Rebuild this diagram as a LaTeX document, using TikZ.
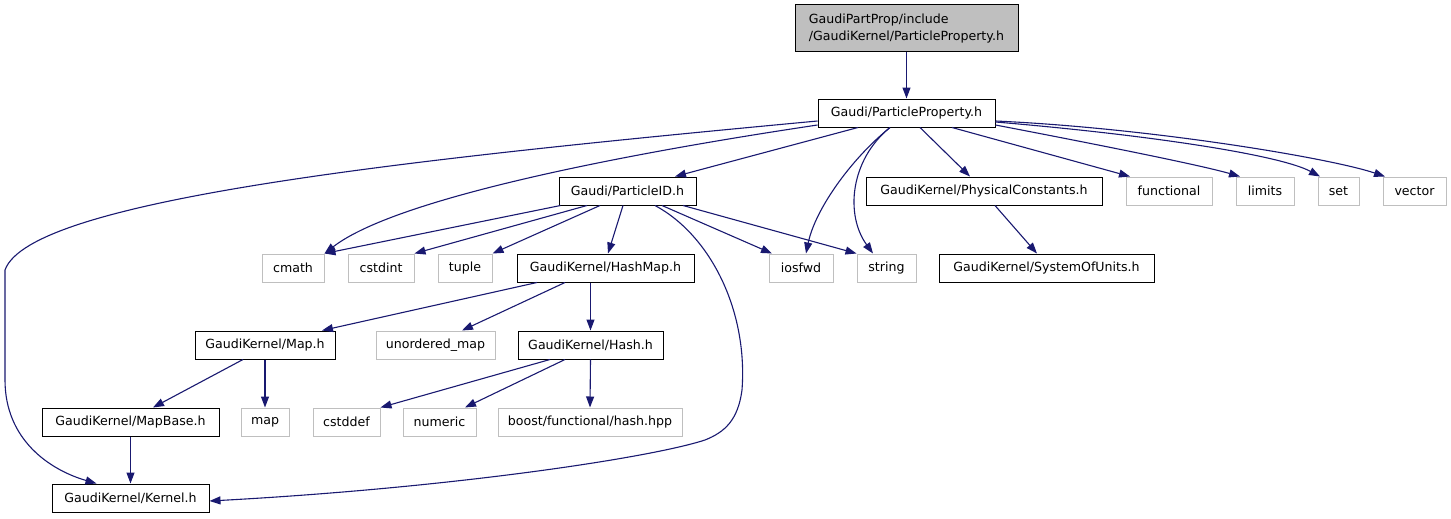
\documentclass[tikz,border=0pt]{standalone}
\usepackage{fontspec}
\setmainfont{DejaVu Sans}
\usetikzlibrary{arrows.meta}
\definecolor{edgecol}{HTML}{191970}
\definecolor{greyline}{HTML}{BFBFBF}
\tikzset{
  box/.style={draw=black, line width=1pt, fill=white, inner sep=0pt, minimum height=28pt,
    font=\fontsize{12.6}{17}\selectfont},
  ext/.style={draw=greyline, line width=1pt, fill=white, inner sep=0pt, minimum height=28pt,
    font=\fontsize{12.6}{17}\selectfont},
  rootbox/.style={draw=black, line width=1pt, fill=greyline, inner sep=0pt, align=left,
    font=\fontsize{12.6}{17}\selectfont},
  dep/.style={draw=edgecol, line width=1.1pt, -{Triangle[length=11pt,width=8pt]}, fill=none},
}
\begin{document}
\begin{tikzpicture}[x=1pt,y=-1pt]
\useasboundingbox (0,0) rectangle (1451,519);
% row 0
\node[rootbox, minimum width=223pt, minimum height=47pt] (top) at (906.5,28.5) {GaudiPartProp/include\\/GaudiKernel/ParticleProperty.h};
% row 1
\node[box, minimum width=177pt] (pp) at (906.5,113) {Gaudi/ParticleProperty.h};
% row 2
\node[box, minimum width=137pt] (pid) at (627.5,191) {Gaudi/ParticleID.h};
\node[box, minimum width=236pt] (phys) at (984,191) {GaudiKernel/PhysicalConstants.h};
\node[ext, minimum width=86pt] (func) at (1169,191) {functional};
\node[ext, minimum width=58pt] (limits) at (1265,191) {limits};
\node[ext, minimum width=41pt] (set) at (1338.5,191) {set};
\node[ext, minimum width=63pt] (vector) at (1414.5,191) {vector};
% row 3
\node[ext, minimum width=62pt] (cmath) at (293,268) {cmath};
\node[ext, minimum width=66pt] (cstdint) at (381,268) {cstdint};
\node[ext, minimum width=54pt] (tuple) at (465,268) {tuple};
\node[box, minimum width=177pt] (hashmap) at (605.5,268) {GaudiKernel/HashMap.h};
\node[ext, minimum width=64pt] (iosfwd) at (801,268) {iosfwd};
\node[ext, minimum width=59pt] (string) at (886.5,268) {string};
\node[box, minimum width=215pt] (sou) at (1046.5,268) {GaudiKernel/SystemOfUnits.h};
% row 4
\node[box, minimum width=140pt] (maph) at (265,345) {GaudiKernel/Map.h};
\node[ext, minimum width=119pt] (umap) at (435.5,345) {unordered\_map};
\node[box, minimum width=145pt] (hash) at (590.5,345) {GaudiKernel/Hash.h};
% row 5
\node[box, minimum width=177pt] (mapbase) at (130.5,422) {GaudiKernel/MapBase.h};
\node[ext, minimum width=48pt] (mapn) at (265,422) {map};
\node[ext, minimum width=67pt] (cstddef) at (346.5,422) {cstddef};
\node[ext, minimum width=73pt] (numeric) at (439.5,422) {numeric};
\node[ext, minimum width=184pt] (boost) at (590,422) {boost/functional/hash.hpp};
% row 6
\node[box, minimum width=157pt] (kernel) at (130.5,498) {GaudiKernel/Kernel.h};

% edges
\draw[dep] (top.south) -- (pp.north);
\draw[dep] ([yshift=-8pt]pp.west) .. controls (400,160) and (30,200) .. (5,270) -- (5,380) .. controls (5,440) and (50,470) .. ([xshift=-34pt]kernel.north);
\draw[dep] ([yshift=-12pt]pp.west) .. controls (650,150) and (400,195) .. (cmath.north east);
\draw[dep] ([xshift=-48.5pt]pp.south) -- ([xshift=47.5pt]pid.north);
\draw[dep] ([xshift=-16.5pt]pp.south) .. controls (850,160) and (815,210) .. ([xshift=5pt]iosfwd.north);
\draw[dep] ([xshift=-16.5pt]pp.south) .. controls (850,160) and (845,215) .. ([xshift=-13.5pt]string.north);
\draw[dep] ([xshift=13.5pt]pp.south) -- ([xshift=-14pt]phys.north);
\draw[dep] ([xshift=45.5pt]pp.south) -- ([xshift=-39pt]func.north);
\draw[dep] ([yshift=-12pt]pp.east) .. controls (1100,145) and (1200,165) .. ([xshift=-25pt]limits.north);
\draw[dep] ([yshift=-9pt]pp.east) .. controls (1150,135) and (1280,155) .. ([xshift=-18.5pt]set.north);
\draw[dep] ([yshift=-8pt]pp.east) .. controls (1150,128) and (1330,158) .. ([xshift=-29.5pt]vector.north);

\draw[dep] ([xshift=2pt]pid.south west) -- (cmath.north east);
\draw[dep] ([xshift=-40.5pt]pid.south) -- (cstdint.north east);
\draw[dep] ([xshift=-27.5pt]pid.south) -- (tuple.north east);
\draw[dep] ([xshift=-4.5pt]pid.south) -- ([xshift=2.5pt]hashmap.north);
\draw[dep] ([xshift=27.5pt]pid.south) .. controls (710,235) and (748,310) .. (742,390) .. controls (738,420) and (725,432) .. (705,440) .. controls (650,458) and (450,488) .. ([yshift=-3pt]kernel.east);
\draw[dep] ([xshift=34.5pt]pid.south) -- ([xshift=-29pt]iosfwd.north);
\draw[dep] ([xshift=55.5pt]pid.south) -- (string.north west);

\draw[dep] ([xshift=11pt]phys.south) -- ([xshift=-9.5pt]sou.north);

\draw[dep] ([xshift=-68.5pt]hashmap.south) -- ([xshift=57pt]maph.north);
\draw[dep] ([xshift=-40.5pt]hashmap.south) -- ([xshift=26.5pt]umap.north);
\draw[dep] ([xshift=-15pt]hashmap.south) -- (hash.north);

\draw[dep] ([xshift=-22pt]maph.south) -- ([xshift=22.5pt]mapbase.north);
\draw[dep] (maph.south) -- (mapn.north);

\draw[dep] ([xshift=-40.5pt]hash.south) -- (cstddef.north east);
\draw[dep] ([xshift=-25.5pt]hash.south) -- ([xshift=25.5pt]numeric.north);
\draw[dep] (hash.south) -- (boost.north);

\draw[dep] (mapbase.south) -- (kernel.north);
\end{tikzpicture}
\end{document}
